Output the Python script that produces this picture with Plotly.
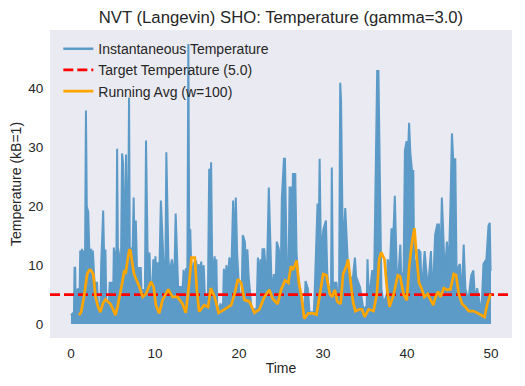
import plotly.graph_objects as go

# Instantaneous temperature: envelope of the fast oscillation (it fills down to 0)
inst_time = [0.0, 0.2, 0.35, 0.42, 0.5, 0.56, 0.7, 0.9, 1.0, 1.1, 1.2, 1.3, 1.4, 1.5, 1.6, 1.68, 1.78, 1.88, 2.05, 2.18,
             2.3, 2.4, 2.5, 2.6, 2.8, 3.1, 3.2, 3.5, 3.6, 3.83, 3.93, 4.1, 4.2, 4.5, 4.6, 4.9, 5.0, 5.1, 5.2, 5.3,
             5.4, 5.49, 5.58, 5.95, 6.08, 6.2, 6.3, 6.42, 6.55, 6.65, 6.72, 6.8, 6.91, 7.0, 7.1, 7.2, 7.3, 7.46, 7.56, 7.72,
             7.85, 8.0, 8.1, 8.2, 8.3, 8.4, 8.8, 8.93, 9.02, 9.12, 9.35, 9.45, 9.7, 9.8, 9.95, 10.05, 10.2, 10.3, 10.45, 10.55,
             10.7, 10.85, 11.0, 11.12, 11.25, 11.35, 11.48, 11.6, 11.75, 12.0, 12.15, 12.35, 12.46, 12.6, 12.75, 13.3, 13.4, 13.55, 13.7, 13.85,
             13.97, 14.07, 14.2, 14.3, 14.45, 14.6, 14.75, 14.9, 15.05, 15.2, 15.35, 15.5, 15.65, 15.8, 15.95, 16.3, 16.45, 16.56, 16.68, 16.8,
             16.95, 17.1, 17.2, 17.3, 17.4, 17.6, 17.8, 17.95, 18.1, 18.2, 18.35, 18.5, 18.65, 18.85, 19.1, 19.3, 19.45, 19.62, 19.78, 20.1,
             20.3, 20.45, 20.7, 20.85, 21.0, 21.15, 21.35, 21.5, 22.1, 22.25, 22.4, 22.55, 22.7, 22.8, 23.0, 23.3, 23.55, 23.7, 23.85, 24.0,
             24.15, 24.35, 24.5, 24.75, 24.95, 25.1, 25.35, 25.47, 25.6, 25.7, 25.9, 26.02, 26.18, 26.3, 26.42, 26.7, 26.85, 27.0, 27.2, 27.5,
             27.8, 27.92, 28.2, 28.4, 28.9, 29.0, 29.15, 29.35, 29.47, 29.6, 29.75, 30.05, 30.35, 30.5, 30.7, 30.95, 31.05, 31.18, 31.6, 31.9,
             32.05, 32.15, 32.3, 32.4, 32.65, 32.8, 33.0, 33.2, 33.35, 33.5, 33.8, 33.95, 34.4, 34.55, 34.8, 35.2, 35.3, 35.45, 35.85, 36.1,
             36.25, 36.45, 36.6, 36.8, 36.95, 37.2, 37.6, 37.7, 37.95, 38.15, 38.4, 38.55, 38.7, 38.85, 39.2, 39.35, 39.6, 39.75, 39.95, 40.1,
             40.25, 40.4, 40.6, 40.75, 40.85, 41.0, 41.1, 41.25, 41.35, 41.6, 41.75, 42.1, 42.3, 42.5, 42.85, 42.95, 43.1, 43.35, 43.6, 43.8,
             43.95, 44.15, 44.3, 44.5, 44.75, 44.95, 45.15, 45.35, 45.5, 45.75, 45.9, 46.3, 46.5, 46.75, 46.95, 47.3, 47.65, 47.9, 48.1, 48.35,
             48.6, 48.85, 49.1, 49.45, 49.7, 49.85, 49.95, 50.0]
inst_temp = [1.5, 1.9, 2.0, 9.7, 9.5, 3.0, 5.8, 6.0, 3.0, 12.5, 9.0, 12.8, 10.0, 12.5, 11.0, 13.0, 36.3, 20.0, 19.0, 12.5,
             10.0, 12.8, 9.5, 12.5, 7.0, 7.0, 3.5, 3.5, 10.4, 19.3, 12.5, 12.5, 3.5, 3.5, 7.0, 7.0, 3.0, 13.0, 9.0, 12.5,
             10.0, 29.8, 13.0, 10.0, 29.0, 27.3, 15.0, 11.0, 28.8, 15.0, 12.0, 15.0, 38.5, 13.0, 9.0, 13.0, 10.0, 21.5, 13.0, 17.6,
             9.7, 7.0, 9.7, 6.5, 9.7, 5.8, 5.8, 31.2, 22.7, 12.0, 12.0, 7.0, 7.0, 11.0, 8.0, 11.5, 7.0, 10.5, 8.0, 11.0,
             21.0, 15.0, 11.0, 8.0, 11.0, 29.2, 20.0, 11.0, 8.3, 11.0, 8.0, 11.0, 18.8, 13.5, 6.3, 6.3, 9.2, 6.5, 9.5, 8.0,
             47.6, 16.1, 16.0, 10.4, 7.0, 10.5, 8.0, 10.8, 7.5, 10.2, 8.0, 10.6, 7.5, 10.0, 4.5, 4.5, 26.4, 20.0, 27.5, 11.3,
             8.0, 11.5, 8.5, 11.0, 3.4, 2.0, 3.5, 2.5, 3.4, 9.4, 6.0, 10.0, 7.0, 11.3, 9.4, 21.0, 12.0, 21.5, 12.0, 3.4,
             3.4, 15.1, 14.0, 9.0, 12.7, 8.0, 4.0, 2.5, 2.5, 11.3, 7.5, 11.0, 8.5, 12.7, 12.7, 7.0, 23.2, 15.0, 8.0, 5.0,
             8.5, 6.0, 14.0, 12.7, 6.0, 21.5, 28.1, 28.1, 15.0, 9.0, 9.0, 23.2, 23.2, 12.0, 25.5, 25.5, 12.0, 9.0, 5.0, 3.4,
             3.4, 7.3, 6.0, 2.0, 2.0, 5.0, 12.7, 20.5, 12.0, 28.1, 12.0, 16.1, 17.6, 9.0, 5.0, 5.0, 26.6, 7.0, 7.0, 2.0,
             41.0, 38.0, 20.0, 12.0, 19.7, 14.0, 9.0, 5.5, 8.0, 7.0, 11.3, 8.0, 6.3, 5.0, 2.5, 3.0, 11.0, 4.0, 9.0, 9.0,
             27.4, 43.0, 43.0, 16.1, 6.0, 3.5, 5.0, 11.0, 9.0, 16.1, 16.1, 21.8, 15.0, 5.0, 13.5, 7.0, 9.0, 29.5, 31.1, 28.0,
             34.2, 29.0, 26.0, 26.0, 10.0, 7.0, 11.0, 8.0, 12.7, 12.2, 5.0, 12.4, 9.0, 6.0, 12.4, 8.0, 6.0, 15.2, 16.9, 16.9,
             8.0, 21.5, 16.1, 8.0, 14.0, 9.0, 18.8, 32.4, 28.0, 28.0, 9.0, 10.2, 4.0, 13.5, 6.0, 4.0, 8.3, 9.1, 4.0, 6.1,
             4.0, 1.5, 10.2, 11.0, 16.7, 17.2, 9.0, 9.0]

# Running average (window = 100 steps)
avg_time = [0.95, 1.2, 1.54, 1.93, 2.2, 2.33, 2.65, 2.92, 3.2, 3.5, 3.8, 4.1, 4.4, 4.7, 5.0, 5.29, 5.55, 5.8, 6.1, 6.36,
            6.5, 6.75, 6.95, 7.07, 7.3, 7.5, 7.8, 8.2, 8.53, 8.93, 9.52, 9.84, 10.11, 10.5, 10.9, 11.58, 12.09, 12.68, 13.28, 13.67,
            14.07, 14.34, 14.74, 14.98, 15.25, 15.85, 16.32, 16.64, 17.1, 17.57, 18.28, 19.07, 19.47, 19.86, 20.26, 20.65, 21.25, 21.84, 22.43, 23.02,
            23.62, 24.01, 24.6, 25.0, 25.47, 25.87, 26.18, 26.46, 26.85, 27.13, 27.45, 27.76, 28.24, 28.83, 29.23, 29.62, 30.02, 30.41, 30.81, 31.08,
            31.4, 31.7, 32.1, 32.39, 32.78, 32.98, 33.26, 33.57, 33.85, 34.36, 34.64, 34.95, 35.43, 36.02, 36.41, 36.69, 36.93, 37.32, 37.6, 37.92,
            38.39, 38.9, 39.18, 39.58, 39.97, 40.25, 40.56, 40.88, 41.16, 41.43, 41.75, 42.07, 42.46, 42.86, 43.13, 43.4, 43.71, 43.99, 44.38, 44.78,
            45.17, 45.57, 45.85, 46.16, 46.56, 46.95, 47.35, 47.94, 48.53, 48.93, 49.24, 49.52, 49.8, 49.95]
avg_temp = [1.5, 2.0, 4.6, 8.5, 9.2, 9.2, 8.5, 4.6, 3.0, 2.0, 3.5, 4.2, 3.8, 3.4, 2.5, 1.5, 3.0, 4.6, 7.0, 9.2,
            8.5, 11.0, 12.7, 12.5, 10.0, 8.5, 7.5, 6.1, 4.6, 5.1, 7.2, 6.3, 3.2, 1.8, 4.1, 5.9, 4.6, 4.6, 3.4, 1.9,
            7.0, 11.3, 11.3, 5.8, 2.1, 3.2, 2.9, 6.1, 4.6, 1.9, 2.5, 3.2, 5.1, 7.6, 7.0, 4.1, 3.8, 1.9, 2.5, 4.6,
            5.8, 4.3, 3.4, 5.8, 7.4, 7.0, 9.8, 9.2, 10.8, 7.0, 4.6, 0.9, 1.8, 1.8, 1.6, 5.1, 8.5, 8.3, 5.1, 4.6,
            5.8, 3.8, 3.4, 8.5, 9.8, 11.0, 7.0, 3.8, 2.2, 2.5, 2.5, 1.2, 2.5, 2.2, 5.1, 11.0, 12.2, 11.0, 6.3, 2.9,
            4.9, 8.3, 8.1, 5.1, 4.0, 9.6, 13.5, 16.3, 11.3, 7.0, 6.0, 4.6, 5.1, 3.8, 3.2, 4.6, 5.5, 4.6, 6.1, 5.8,
            5.9, 8.5, 8.3, 5.1, 3.4, 2.9, 2.2, 2.2, 1.8, 1.5, 1.2, 3.2, 4.6, 5.1]

target_temp = 5.0
x_ticks = [0, 10, 20, 30, 40, 50]
y_ticks = [0, 10, 20, 30, 40]

# matplotlib-like 5% margins
x_lo, x_hi = min(inst_time), max(inst_time)
y_lo, y_hi = min(0.0, min(inst_temp)), max(inst_temp)
xpad = 0.05 * (x_hi - x_lo)
ypad = 0.05 * (y_hi - y_lo)
x_range = [x_lo - xpad, x_hi + xpad]
y_range = [y_lo - ypad, y_hi + ypad]

BLUE = "#5c9ac7"
TXT = "#262626"
FONT = "Liberation Sans, Arial, sans-serif"

# the page body adds an 8px offset; margins compensate so the plot lands at x 50-512, y 30-338
W, H, OFF = 525, 386, 8

fig = go.Figure()
fig.add_trace(go.Scatter(x=inst_time, y=inst_temp, mode="lines", fill="tozeroy",
                         fillcolor=BLUE, line=dict(color=BLUE, width=2),
                         showlegend=False, hoverinfo="skip"))
fig.add_trace(go.Scatter(x=[None], y=[None], mode="lines", name="Instantaneous Temperature",
                         line=dict(color=BLUE, width=2.5)))
fig.add_trace(go.Scatter(x=x_range, y=[target_temp, target_temp], mode="lines",
                         name=f"Target Temperature ({target_temp})",
                         line=dict(color="#ff0000", width=2.7, dash="10px,4px")))
fig.add_trace(go.Scatter(x=avg_time, y=avg_temp, mode="lines", name="Running Avg (w=100)",
                         line=dict(color="#ffa500", width=2.7)))

fig.update_layout(
    width=W, height=H,
    margin=dict(l=50 - OFF, r=13 + OFF, t=30 - OFF, b=48 + OFF),
    paper_bgcolor="white", plot_bgcolor="#eaeaf2",
    font=dict(family=FONT, size=13.5, color=TXT),
    title=dict(text="NVT (Langevin) SHO: Temperature (gamma=3.0)", xref="paper", x=0.5, xanchor="center",
               yref="container", y=(H - (17 - OFF)) / H, yanchor="middle", font=dict(size=16.7, color=TXT)),
    legend=dict(x=0.018, y=0.99, xanchor="left", yanchor="top", bgcolor="rgba(0,0,0,0)",
                font=dict(size=14, color=TXT), itemwidth=30, tracegroupgap=0),
    showlegend=True,
)
fig.update_xaxes(range=x_range, tickvals=x_ticks, showgrid=False, zeroline=False, automargin=False,
                 showline=False, ticks="outside", ticklen=3, tickcolor="rgba(0,0,0,0)",
                 title=dict(text="Time", font=dict(size=14), standoff=2), tickfont=dict(size=13.5))
fig.update_yaxes(range=y_range, tickvals=y_ticks, showgrid=False, zeroline=False, automargin=False,
                 showline=False, ticks="outside", ticklen=3, tickcolor="rgba(0,0,0,0)",
                 title=dict(text="Temperature (kB=1)", font=dict(size=14), standoff=8), tickfont=dict(size=13.5))

fig.write_html("out.html")
